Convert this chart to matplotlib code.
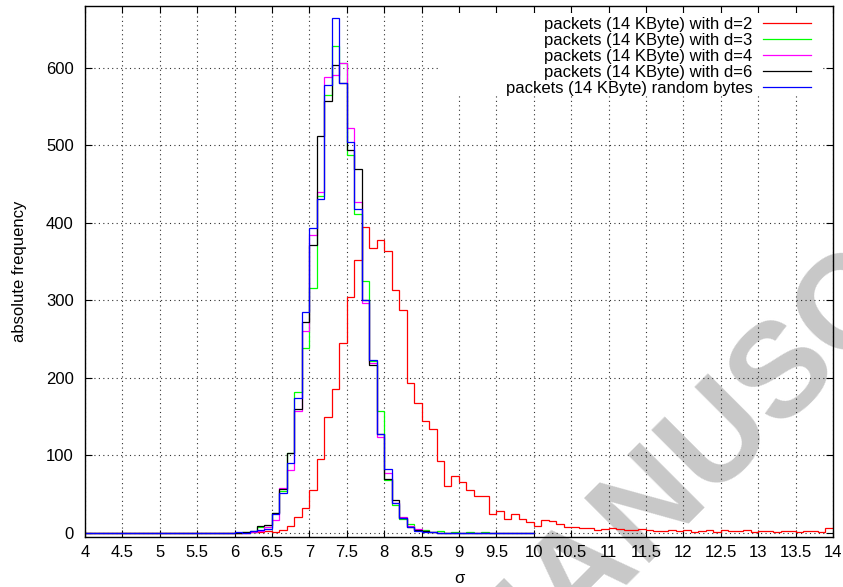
import numpy as np
import matplotlib
matplotlib.use("Agg")
import matplotlib.pyplot as plt
from matplotlib.patches import Rectangle

plt.rcParams['font.family'] = ['Liberation Sans', 'DejaVu Sans']

# histogram bins: 0.1 wide, starting at sigma = 4.0
sigma_start = 4.0
bin_width = 0.1

# counts per bin, 4.0 .. 14.0
counts_d2 = [0, 0, 0, 0, 0, 0, 0, 0, 0, 0,
             0, 0, 0, 0, 0, 0, 0, 0, 0, 0,
             0, 0, 1, 1, 2, 1, 4, 9, 21, 32,
             55, 95, 150, 185, 245, 304, 352, 395, 367, 378,
             364, 313, 288, 193, 167, 144, 134, 93, 60, 73,
             65, 55, 47, 47, 24, 28, 18, 24, 18, 14,
             9, 17, 15, 12, 8, 7, 6, 6, 4, 5,
             6, 5, 4, 4, 5, 4, 2, 2, 3, 2,
             4, 1, 2, 3, 1, 3, 2, 2, 3, 1,
             2, 2, 1, 2, 2, 1, 2, 2, 1, 6]

# counts per bin, 4.0 .. 10.0
counts_d3 = [0, 0, 0, 0, 0, 0, 0, 0, 0, 0,
             0, 0, 0, 0, 0, 0, 0, 0, 0, 0,
             0, 1, 1, 7, 7, 26, 54, 103, 182, 238,
             316, 435, 565, 628, 606, 488, 411, 325, 222, 157,
             68, 36, 18, 12, 4, 3, 1, 2, 0, 1,
             0, 1, 0, 1, 0, 0, 0, 0, 0, 0]

counts_d4 = [0, 0, 0, 0, 0, 0, 0, 0, 0, 0,
             0, 0, 0, 0, 0, 0, 0, 0, 0, 0,
             0, 0, 1, 2, 8, 16, 58, 81, 157, 261,
             385, 440, 588, 591, 607, 523, 427, 296, 219, 124,
             77, 38, 20, 9, 5, 2, 1, 0, 0, 0,
             0, 0, 0, 0, 0, 0, 0, 0, 0, 0]

counts_d6 = [0, 0, 0, 0, 0, 0, 0, 0, 0, 0,
             0, 0, 0, 0, 0, 0, 0, 0, 0, 0,
             0, 1, 2, 9, 10, 26, 56, 103, 160, 272,
             372, 512, 557, 604, 580, 494, 469, 301, 216, 128,
             70, 43, 19, 8, 3, 2, 1, 0, 0, 0,
             0, 0, 0, 0, 0, 0, 0, 0, 0, 0]

counts_random = [0, 0, 0, 0, 0, 0, 0, 0, 0, 0,
                 0, 0, 0, 0, 0, 0, 0, 0, 0, 0,
                 1, 0, 2, 3, 5, 24, 52, 90, 174, 285,
                 393, 431, 578, 664, 580, 504, 418, 301, 223, 128,
                 82, 38, 19, 7, 2, 1, 1, 0, 0, 0,
                 0, 0, 0, 0, 0, 0, 0, 0, 0, 0]

series = [
    ("packets (14 KByte) with d=2", counts_d2, "#ff0000"),
    ("packets (14 KByte) with d=3", counts_d3, "#00ff00"),
    ("packets (14 KByte) with d=4", counts_d4, "#ff00ff"),
    ("packets (14 KByte) with d=6", counts_d6, "#000000"),
    ("packets (14 KByte) random bytes", counts_random, "#0000ff"),
]

x_ticks = np.arange(4.0, 14.01, 0.5)
y_ticks = np.arange(0, 601, 100)


def bin_edges(n):
    return sigma_start + bin_width * np.arange(n + 1)


fig = plt.figure(figsize=(8.43, 5.87), dpi=100, facecolor="white")
ax = fig.add_axes([0.1008, 0.0857, 0.8873, 0.9041])
ax.patch.set_visible(False)

for label, counts, color in series:
    ax.stairs(counts, bin_edges(len(counts)), baseline=None,
              color=color, lw=0.9, label=label, zorder=2)

ax.set_xlim(4, 14)
ax.set_ylim(-5, 680)
ax.set_xticks(x_ticks)
ax.set_xticklabels([f"{t:g}" for t in x_ticks])
ax.set_yticks(y_ticks)

ax.set_axisbelow(True)
ax.grid(True, color="#303030", lw=0.8, ls=(0, (1, 3)))
ax.tick_params(direction="in", top=True, right=True, length=5, width=0.8,
               labelsize=12)
ax.tick_params(axis="x", pad=6)
ax.tick_params(axis="y", pad=8)
for sp in ax.spines.values():
    sp.set_linewidth(1.0)

ax.set_xlabel("σ", fontsize=12, labelpad=8)
ax.set_ylabel("absolute frequency", fontsize=12, labelpad=14)

# opaque key area over the grid
ax.add_patch(Rectangle((0.4746, 0.8323), 0.5104, 0.1545, transform=ax.transAxes,
                       facecolor="white", edgecolor="none", zorder=1))
ax.legend(loc="upper right", bbox_to_anchor=(0.9706, 0.98), frameon=False,
          markerfirst=False, fontsize=12, handlelength=2.9, handletextpad=0.6,
          labelspacing=0.07, borderpad=0, borderaxespad=0)

fig.text(0.586, -0.208, "MANUSCRIPT", rotation=45, rotation_mode="anchor",
         ha="left", va="baseline", fontsize=96, fontweight="bold",
         color="#c8c8c8", zorder=-1)

fig.savefig("out.png", dpi=100)
